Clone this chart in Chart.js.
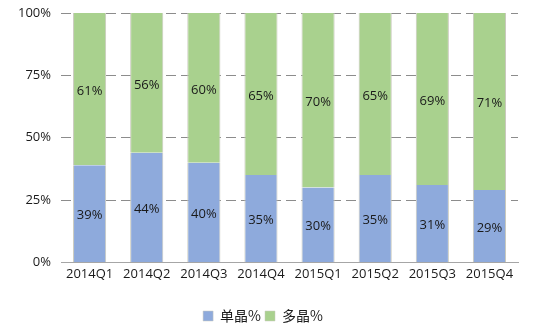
<!DOCTYPE html>
<html>
<head>
<meta charset="utf-8">
<script src="https://cdn.jsdelivr.net/npm/chart.js@4"></script>
<style>
  html, body { margin: 0; padding: 0; background: #fff; }
  #wrap { width: 536px; height: 329px; }
</style>
</head>
<body>
<div id="wrap"><canvas id="grafico"></canvas></div>
<script>
const quarters = ['2014Q1', '2014Q2', '2014Q3', '2014Q4', '2015Q1', '2015Q2', '2015Q3', '2015Q4'];
const mono = [39, 44, 40, 35, 30, 35, 31, 29];
const multi = [61, 56, 60, 65, 70, 65, 69, 71];
const yTicks = [0, 25, 50, 75, 100];

// labels in the middle of each segment
const segmentLabels = {
    id: 'segmentLabels',
    afterDatasetsDraw(chart) {
        const ctx = chart.ctx;
        ctx.save();
        ctx.font = '13px "Open Sans", "DejaVu Sans", sans-serif';
        ctx.fillStyle = '#1a1a1a';
        ctx.textAlign = 'center';
        ctx.textBaseline = 'middle';
        chart.data.datasets.forEach((ds, i) => {
            chart.getDatasetMeta(i).data.forEach((bar, j) => {
                const mid = (bar.y + bar.base) / 2;
                ctx.fillText(ds.data[j] + '%', bar.x, mid + 2);
            });
        });
        ctx.restore();
    }
};

const ctx = document.getElementById('grafico').getContext('2d');

new Chart(ctx, {
    type: 'bar',
    data: {
        labels: quarters,
        datasets: [{
            label: '单晶%',
            data: mono,
            backgroundColor: '#8eaadc',
            borderColor: '#c9c9bd',
            borderWidth: { left: 1, right: 1 },
            categoryPercentage: 1,
            barPercentage: 0.58
        }, {
            label: '多晶%',
            data: multi,
            backgroundColor: '#a9d18e',
            borderColor: '#c9c9bd',
            borderWidth: { left: 1, right: 1 },
            categoryPercentage: 1,
            barPercentage: 0.58
        }]
    },
    options: {
        responsive: true,
        maintainAspectRatio: false,
        animation: false,
        layout: { padding: { left: 8, right: 18, top: 0, bottom: -4 } },
        scales: {
            x: {
                stacked: true,
                grid: { display: false, drawTicks: false },
                border: { color: '#a6a6a6' },
                afterFit(axis) {
                    axis.height += 19;
                },
                ticks: {
                    color: '#1a1a1a',
                    padding: 4,
                    font: { size: 13, family: '"Open Sans", "DejaVu Sans", sans-serif' }
                }
            },
            y: {
                stacked: true,
                min: 0,
                max: 100,
                afterBuildTicks(axis) {
                    axis.ticks = yTicks.map(v => ({ value: v }));
                },
                afterFit(axis) {
                    axis.paddingTop = 13;
                },
                grid: { color: '#8c8c8c', drawTicks: false },
                border: { display: false, dash: [10, 5] },
                ticks: {
                    color: '#1a1a1a',
                    padding: 10,
                    font: { size: 13, family: '"Open Sans", "DejaVu Sans", sans-serif' },
                    callback: v => v + '%'
                }
            }
        },
        plugins: {
            legend: {
                position: 'bottom',
                labels: {
                    boxWidth: 10,
                    boxHeight: 10,
                    padding: 4,
                    color: '#1a1a1a',
                    font: { size: 14, family: '"Noto Sans CJK SC", sans-serif' }
                }
            },
            tooltip: { enabled: false }
        }
    },
    plugins: [segmentLabels]
});
</script>
</body>
</html>
